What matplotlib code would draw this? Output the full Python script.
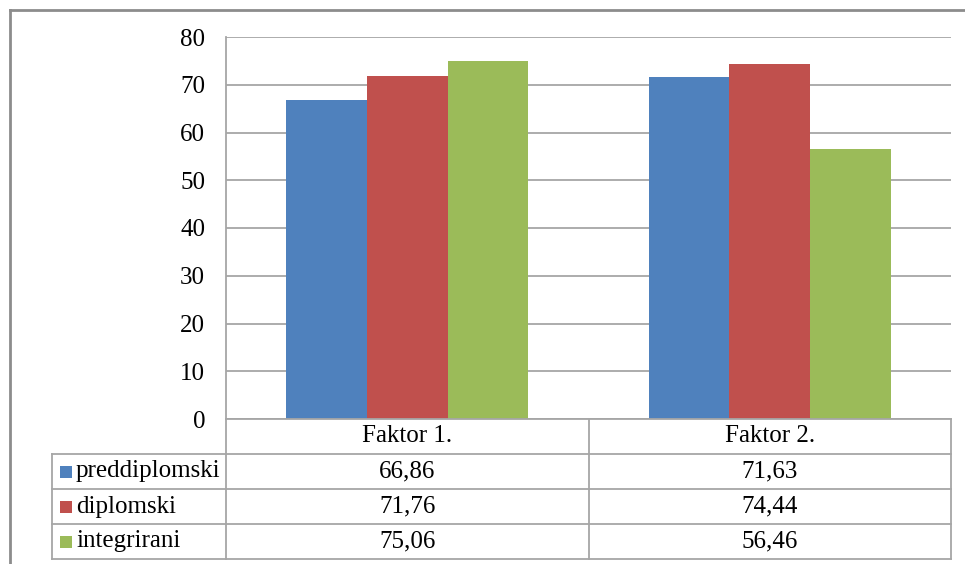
import matplotlib.pyplot as plt
from matplotlib.lines import Line2D
from matplotlib.patches import Rectangle
import numpy as np

plt.rcParams['font.family'] = ['Liberation Serif', 'DejaVu Serif']

categories = ["Faktor 1.", "Faktor 2."]
series = ["preddiplomski", "diplomski", "integrirani"]
values = [
    [66.86, 71.63],
    [71.76, 74.44],
    [75.06, 56.46],
]
colors = ["#4F81BD", "#C0504D", "#9BBB59"]
yticks = [0, 10, 20, 30, 40, 50, 60, 70, 80]

W, H = 965, 564
GRID = "#a6a6a6"
FS = 18


def fx(x):
    return x / W


def fy(y):
    return 1 - y / H


fig = plt.figure(figsize=(W / 100, H / 100), dpi=100)

# plot area in pixel units of the reference
ax_l, ax_r, ax_t, ax_b = 226, 951, 37, 419
ax = fig.add_axes([fx(ax_l), fy(ax_b), fx(ax_r - ax_l), fy(ax_t) - fy(ax_b)])

x = np.arange(len(categories))
bw = 1 / 4.5
for i, (name, vals) in enumerate(zip(series, values)):
    ax.bar(x + (i - 1) * bw, vals, width=bw, color=colors[i], zorder=3)

ax.set_xlim(-0.5, len(categories) - 0.5)
ax.set_ylim(0, 80)
ax.set_yticks(yticks)
ax.set_yticklabels([str(t) for t in yticks], fontsize=FS)
ax.set_xticks([])
ax.tick_params(axis="y", length=0, pad=15)
ax.grid(axis="y", color=GRID, linewidth=1.3, zorder=0)
for s in ["top", "right", "bottom"]:
    ax.spines[s].set_visible(False)
ax.spines["left"].set_color(GRID)
ax.spines["left"].set_linewidth(1.3)


def line(x0, y0, x1, y1, color=GRID, lw=1.3):
    fig.add_artist(Line2D([fx(x0), fx(x1)], [fy(y0), fy(y1)], color=color, linewidth=lw))


# data table under the plot
legend_l = 52
col_div = (ax_l + ax_r) / 2 + 0.5
row_h = 35
table_b = ax_b + row_h * (len(series) + 1)
line(ax_l, ax_b, ax_r, ax_b)
for r in range(1, len(series) + 2):
    line(legend_l, ax_b + r * row_h, ax_r, ax_b + r * row_h)
line(ax_l, ax_b, ax_l, table_b)
line(col_div, ax_b, col_div, table_b)
line(ax_r, ax_b, ax_r, table_b)
line(legend_l, ax_b + row_h, legend_l, table_b)

col_centers = [(ax_l + col_div) / 2, (col_div + ax_r) / 2]
for c, cat in enumerate(categories):
    fig.text(fx(col_centers[c]), fy(ax_b + row_h / 2), cat, fontsize=FS,
             ha="center", va="center")

for i, name in enumerate(series):
    yc = ax_b + (i + 1.5) * row_h
    fig.add_artist(Rectangle((fx(60), fy(yc + 6)), fx(12), fy(yc - 6) - fy(yc + 6),
                             facecolor=colors[i], edgecolor="none"))
    fig.text(fx(76), fy(yc), name, fontsize=FS, ha="left", va="center")
    for c in range(len(categories)):
        fig.text(fx(col_centers[c]), fy(yc), f"{values[i][c]:.2f}".replace(".", ","),
                 fontsize=FS, ha="center", va="center")

# outer chart border
line(10, 10, W, 10, color="#8c8c8c", lw=2)
line(10, 10, 10, H, color="#8c8c8c", lw=2)

fig.savefig("out.png", dpi=100)
